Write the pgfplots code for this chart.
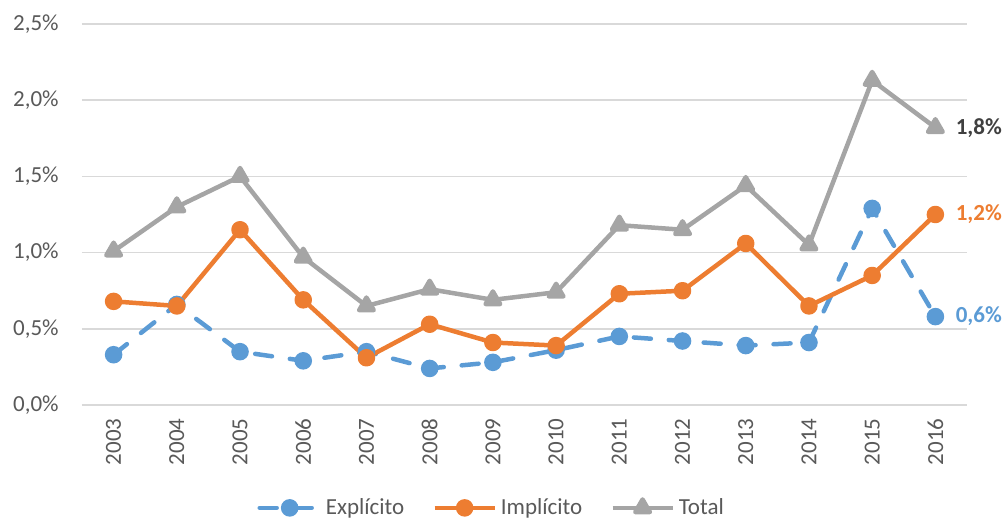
\documentclass[border=0pt]{standalone}
\usepackage{fontspec}
\setmainfont{Carlito}
\usepackage{pgfplots}
\pgfplotsset{compat=1.18}
\definecolor{cblue}{HTML}{5B9BD5}
\definecolor{corange}{HTML}{ED7D31}
\definecolor{cgray}{HTML}{A5A5A5}
\definecolor{gridgray}{HTML}{D9D9D9}
\definecolor{txt}{HTML}{595959}
\definecolor{dark}{HTML}{404040}

\pgfplotstableread{
x  expl  impl  total
0  0.33  0.68  1.01
1  0.66  0.65  1.30
2  0.35  1.15  1.50
3  0.29  0.69  0.97
4  0.35  0.31  0.65
5  0.24  0.53  0.76
6  0.28  0.41  0.69
7  0.36  0.39  0.74
8  0.45  0.73  1.18
9  0.42  0.75  1.15
10 0.39  1.06  1.44
11 0.41  0.65  1.05
12 1.29  0.85  2.13
13 0.58  1.25  1.82
}\datatable

\begin{document}
\begin{tikzpicture}
\begin{axis}[
    name=ax,
    scale only axis,
    width=442.5pt, height=190.5pt,
    xmin=-0.5, xmax=13.5,
    ymin=0, ymax=2.5,
    xtick=data,
    xticklabels={2003,2004,2005,2006,2007,2008,2009,2010,2011,2012,2013,2014,2015,2016},
    ytick={0,0.5,1,1.5,2,2.5},
    yticklabel={\pgfmathprintnumber[fixed,fixed zerofill,precision=1,use comma]{\tick}\%},
    /pgf/number format/assume math mode=true,
    ymajorgrids,
    major grid style={draw=gridgray, line width=0.75pt},
    axis line style={draw=none},
    major tick length=0pt,
    tick label style={font=\fontsize{11.5}{13}\selectfont, text=txt},
    xticklabel style={rotate=90, anchor=east, inner sep=0pt},
    xticklabel shift=6.5pt,
    yticklabel style={anchor=east, inner sep=0pt, xshift=-11.5pt},
    clip=false,
    legend style={
        at={(0.464,-0.27)}, anchor=center,
        legend columns=-1, draw=none, fill=none,
        font=\fontsize{11.5}{13}\selectfont, text=txt,
        /tikz/every even column/.append style={column sep=12pt},
    },
    legend image code/.code={
        \draw[mark repeat=2, mark phase=2] plot coordinates {(0pt,0pt) (15pt,0pt) (30pt,0pt)};
    },
]
\addplot[cblue, line width=2.25pt, line cap=round, dash pattern=on 8.5pt off 9pt,
    mark=*, mark size=3.25pt, mark options={solid, fill=cblue}]
    table[x=x, y=expl] {\datatable};
\addlegendentry{Explícito}
\addplot[corange, line width=2.25pt, line join=round,
    mark=*, mark size=3.25pt, mark options={solid, fill=corange}]
    table[x=x, y=impl] {\datatable};
\addlegendentry{Implícito}
\addplot[cgray, line width=2.25pt, line join=round,
    mark=triangle*, mark size=4.2pt, mark options={solid, fill=cgray}]
    table[x=x, y=total] {\datatable};
\addlegendentry{Total}

\node[anchor=west, inner sep=0pt, xshift=10pt, font=\fontsize{11.5}{13}\selectfont\bfseries, text=dark] at (axis cs:13,1.82) {1,8\%};
\node[anchor=west, inner sep=0pt, xshift=10pt, font=\fontsize{11.5}{13}\selectfont\bfseries, text=corange] at (axis cs:13,1.25) {1,2\%};
\node[anchor=west, inner sep=0pt, xshift=10pt, font=\fontsize{11.5}{13}\selectfont\bfseries, text=cblue] at (axis cs:13,0.58) {0,6\%};
\end{axis}
\path (ax.south west) ++(-41pt,-56.5pt) rectangle ++(501.5pt,259pt);
\end{tikzpicture}
\end{document}
